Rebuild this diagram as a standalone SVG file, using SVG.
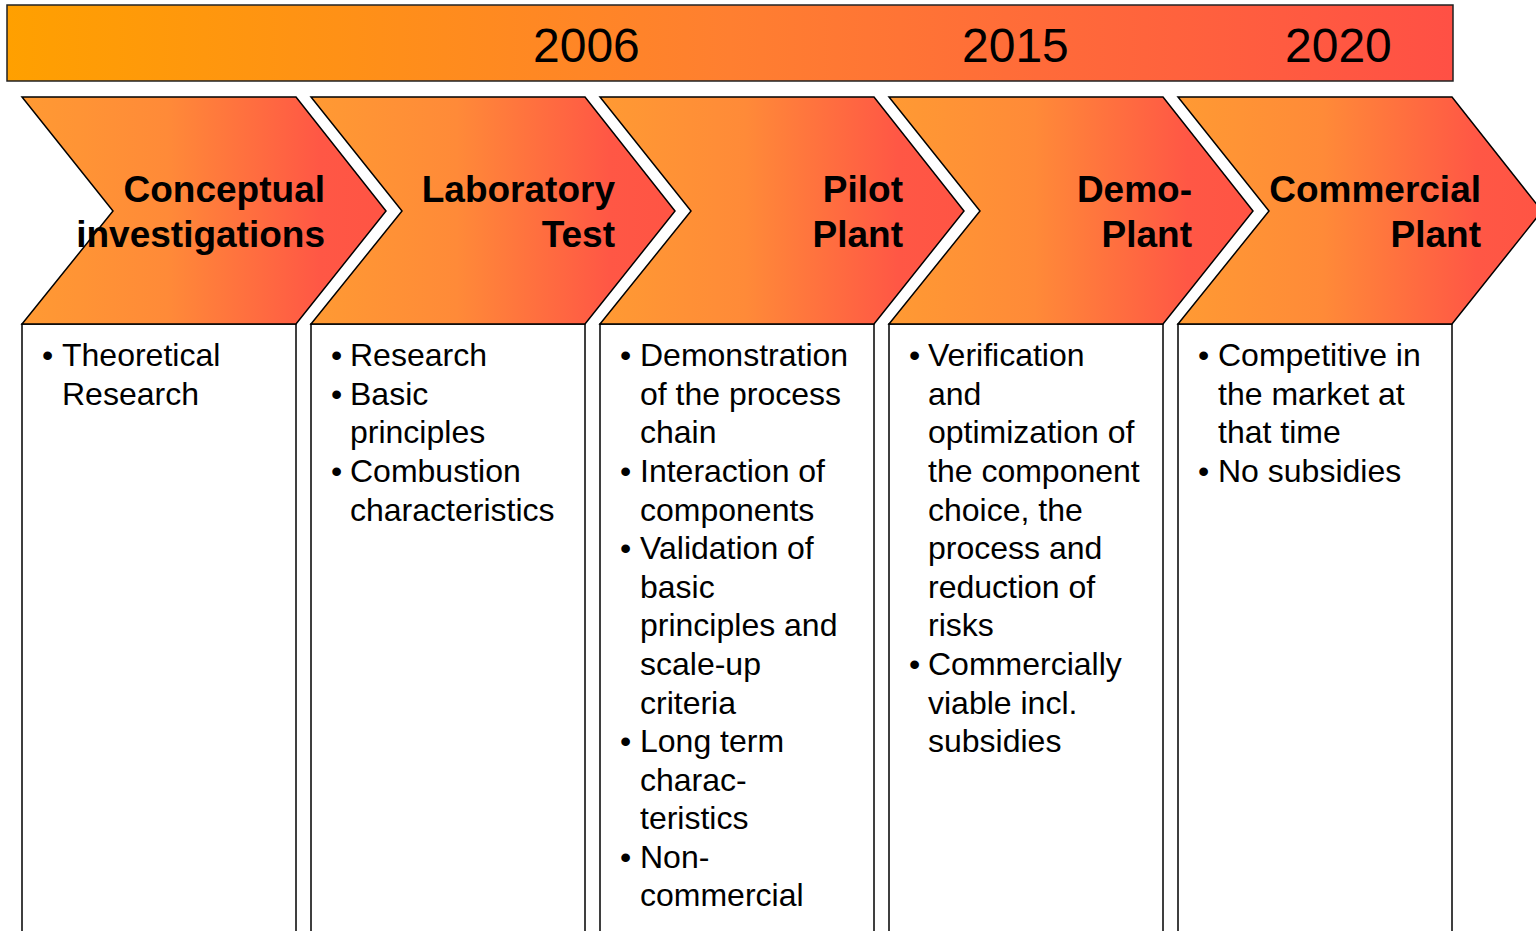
<svg xmlns="http://www.w3.org/2000/svg" width="1536" height="931" viewBox="0 0 1536 931">
  <defs>
    <linearGradient id="barGrad" x1="0" y1="0" x2="1" y2="0">
      <stop offset="0" stop-color="#FFA000"/>
      <stop offset="0.5" stop-color="#FF7F30"/>
      <stop offset="1" stop-color="#FF5045"/>
    </linearGradient>
    <linearGradient id="chevGrad" x1="0" y1="0" x2="1" y2="0">
      <stop offset="0" stop-color="#FF9A33"/>
      <stop offset="0.4" stop-color="#FF8A38"/>
      <stop offset="0.82" stop-color="#FF5745"/>
      <stop offset="1" stop-color="#FF5444"/>
    </linearGradient>
    <style>
      .bar { fill: url(#barGrad); stroke: #222; stroke-width: 1.5; }
      .chev { fill: url(#chevGrad); stroke: #000; stroke-width: 1.5; stroke-linejoin: miter; }
      .box { fill: #fff; stroke: #000; stroke-width: 1.5; }
      .year { font-family: "Liberation Sans", Arial, sans-serif; font-size: 48px; fill: #000; }
      .head { font-family: "Liberation Sans", Arial, sans-serif; font-size: 37px; font-weight: bold; fill: #000; text-anchor: end; }
      .body { font-family: "Liberation Sans", Arial, sans-serif; font-size: 32px; fill: #000; }
    </style>
  </defs>

  <g id="timeline">
    <rect class="bar" x="7" y="5" width="1446" height="76"/>
    <text class="year" x="533" y="62">2006</text>
    <text class="year" x="962" y="62">2015</text>
    <text class="year" x="1285" y="62">2020</text>
  </g>

  <g id="connectors"></g>

  <g id="stage-conceptual">
    <rect class="box" x="22" y="324" width="274" height="700"/>
    <polygon class="chev" points="22,97 296,97 386,211 296,324 22,324 113,211"/>
    <text class="head" x="325" y="202">Conceptual</text>
    <text class="head" x="325" y="247">investigations</text>
    <text class="body">
      <tspan x="42" y="366">•</tspan><tspan x="62" y="366">Theoretical</tspan>
      <tspan x="62" y="405">Research</tspan>
    </text>
  </g>

  <g id="stage-laboratory">
    <rect class="box" x="311" y="324" width="274" height="700"/>
    <polygon class="chev" points="311,97 585,97 675,211 585,324 311,324 402,211"/>
    <text class="head" x="615" y="202">Laboratory</text>
    <text class="head" x="615" y="247">Test</text>
    <text class="body">
      <tspan x="331" y="366">•</tspan><tspan x="350" y="366">Research</tspan>
      <tspan x="331" y="405">•</tspan><tspan x="350" y="405">Basic</tspan>
      <tspan x="350" y="443">principles</tspan>
      <tspan x="331" y="482">•</tspan><tspan x="350" y="482">Combustion</tspan>
      <tspan x="350" y="521">characteristics</tspan>
    </text>
  </g>

  <g id="stage-pilot">
    <rect class="box" x="600" y="324" width="274" height="700"/>
    <polygon class="chev" points="600,97 874,97 964,211 874,324 600,324 691,211"/>
    <text class="head" x="903" y="202">Pilot</text>
    <text class="head" x="903" y="247">Plant</text>
    <text class="body">
      <tspan x="620" y="366">•</tspan><tspan x="640" y="366">Demonstration</tspan>
      <tspan x="640" y="405">of the process</tspan>
      <tspan x="640" y="443">chain</tspan>
      <tspan x="620" y="482">•</tspan><tspan x="640" y="482">Interaction of</tspan>
      <tspan x="640" y="521">components</tspan>
      <tspan x="620" y="559">•</tspan><tspan x="640" y="559">Validation of</tspan>
      <tspan x="640" y="598">basic</tspan>
      <tspan x="640" y="636">principles and</tspan>
      <tspan x="640" y="675">scale-up</tspan>
      <tspan x="640" y="714">criteria</tspan>
      <tspan x="620" y="752">•</tspan><tspan x="640" y="752">Long term</tspan>
      <tspan x="640" y="791">charac-</tspan>
      <tspan x="640" y="829">teristics</tspan>
      <tspan x="620" y="868">•</tspan><tspan x="640" y="868">Non-</tspan>
      <tspan x="640" y="906">commercial</tspan>
    </text>
  </g>

  <g id="stage-demo">
    <rect class="box" x="889" y="324" width="274" height="700"/>
    <polygon class="chev" points="889,97 1163,97 1253,211 1163,324 889,324 980,211"/>
    <text class="head" x="1192" y="202">Demo-</text>
    <text class="head" x="1192" y="247">Plant</text>
    <text class="body">
      <tspan x="909" y="366">•</tspan><tspan x="928" y="366">Verification</tspan>
      <tspan x="928" y="405">and</tspan>
      <tspan x="928" y="443">optimization of</tspan>
      <tspan x="928" y="482">the component</tspan>
      <tspan x="928" y="521">choice, the</tspan>
      <tspan x="928" y="559">process and</tspan>
      <tspan x="928" y="598">reduction of</tspan>
      <tspan x="928" y="636">risks</tspan>
      <tspan x="909" y="675">•</tspan><tspan x="928" y="675">Commercially</tspan>
      <tspan x="928" y="714">viable incl.</tspan>
      <tspan x="928" y="752">subsidies</tspan>
    </text>
  </g>

  <g id="stage-commercial">
    <rect class="box" x="1178" y="324" width="274" height="700"/>
    <polygon class="chev" points="1178,97 1452,97 1542,211 1452,324 1178,324 1269,211"/>
    <text class="head" x="1481" y="202">Commercial</text>
    <text class="head" x="1481" y="247">Plant</text>
    <text class="body">
      <tspan x="1198" y="366">•</tspan><tspan x="1218" y="366">Competitive in</tspan>
      <tspan x="1218" y="405">the market at</tspan>
      <tspan x="1218" y="443">that time</tspan>
      <tspan x="1198" y="482">•</tspan><tspan x="1218" y="482">No subsidies</tspan>
    </text>
  </g>
</svg>
